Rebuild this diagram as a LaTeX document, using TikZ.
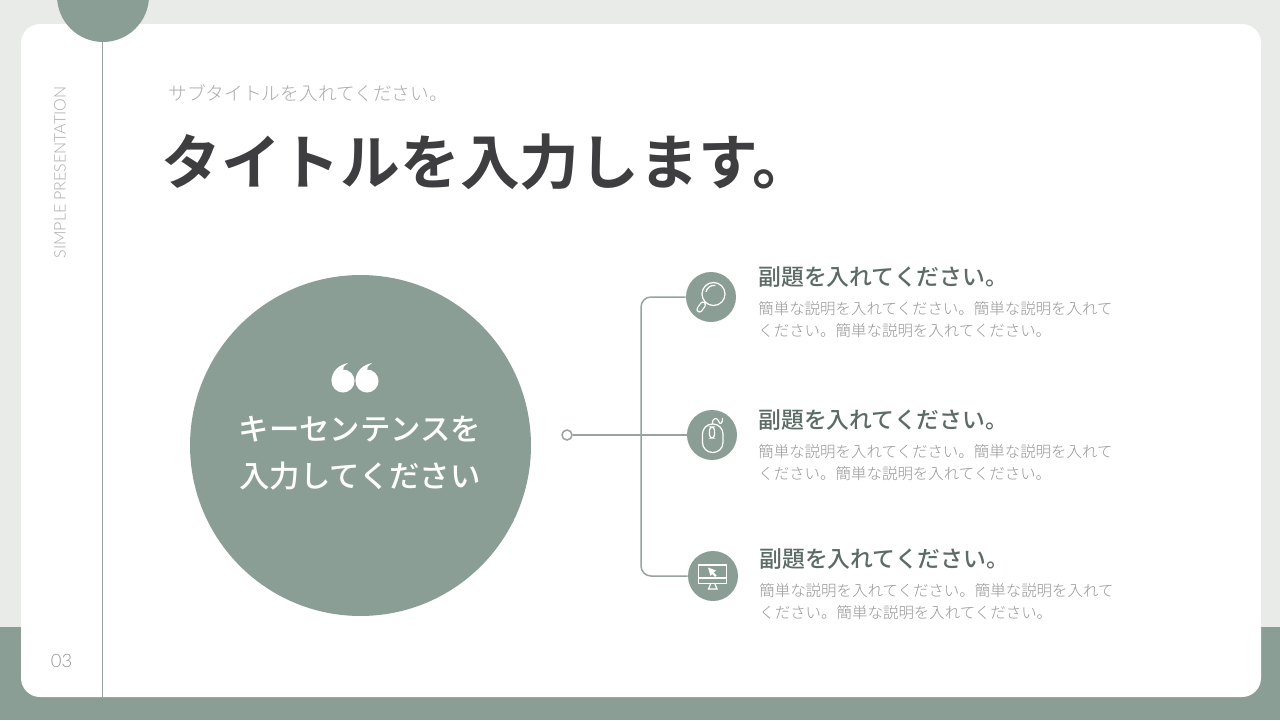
\documentclass[tikz,border=0pt]{standalone}
\usepackage{fontspec}
\usepackage{xcolor}
\setmainfont{Liberation Sans}
\newfontfamily\cjk{Noto Sans CJK JP}
\newfontfamily\cjkmed{Noto Sans CJK JP Medium}
\newfontfamily\cjklight{Noto Sans CJK JP Light}
\newfontfamily\cjkbold{Noto Sans CJK JP Bold}
\newfontfamily\latinlight{Lato Light}
\definecolor{sage}{HTML}{8A9E96}
\definecolor{paper}{HTML}{E9EBE8}
\definecolor{rail}{HTML}{98A29E}
\definecolor{inkdark}{HTML}{3E3E40}
\definecolor{inkhead}{HTML}{5C6B66}
\definecolor{inkbody}{HTML}{969696}
\definecolor{inksub}{HTML}{ABABAB}

\tikzset{
    iconspot/.style={circle,fill=sage,minimum size=1cm,inner sep=0pt},
    iconline/.style={draw=white,line width=0.7pt},
    headtext/.style={anchor=west,inner sep=0pt,text=inkhead,font=\cjkmed\fontsize{13}{14}\selectfont},
    bodytext/.style={anchor=north west,inner sep=0pt,align=left,text=inkbody,font=\cjklight\fontsize{8.8}{12.5}\selectfont},
    connector/.style={draw=rail,line width=0.85pt},
    quotemark/.pic={
        \fill[white] (0,0) circle (11.5);
        \fill[white] (-11.5,0) .. controls (-11.5,-9) and (-5,-16) .. (5,-18)
            .. controls (1,-15) and (-1,-13) .. (0,-11) -- (3,-5) -- cycle;
    }
}

\begin{document}
\begin{tikzpicture}[x=0.02cm,y=-0.02cm]
    \useasboundingbox (0,0) rectangle (1280,720);
    \fill[paper] (0,0) rectangle (1280,720);
    \fill[sage] (0,627) rectangle (1280,720);
    \fill[white,rounded corners=0.38cm] (21,24) rectangle (1261,697);

    % left rail
    \node[circle,fill=sage,minimum size=1.84cm,inner sep=0pt] (topcap) at (103,-4) {};
    \coordinate (railend) at (102.5,697);
    \draw[draw=rail,line width=0.45pt] (102.5,42) -- (railend);
    \node[rotate=90,inner sep=0pt,text=inksub,font=\latinlight\fontsize{9.1}{10}\selectfont] (sidelabel) at (60,172.5) {SIMPLE PRESENTATION};
    \node[inner sep=0pt,text=inkbody,font=\latinlight\fontsize{10.5}{11}\selectfont] (pagenum) at (61.5,661) {03};

    % title
    \node[anchor=west,inner sep=0pt,text=inksub,font=\cjklight\fontsize{10.65}{12}\selectfont] (subtitle) at (168,93) {サブタイトルを入れてください。};
    \node[anchor=west,inner sep=0pt,text=inkdark,font=\cjkbold\fontsize{34}{36}\selectfont] (title) at (161,162) {タイトルを入力します。};

    % key sentence
    \node[circle,fill=sage,minimum size=6.82cm,inner sep=0pt] (keycircle) at (360.5,445.5) {};
    \pic at (343,381) {quotemark};
    \pic at (367,381) {quotemark};
    \node[text=white,inner sep=0pt,font=\cjkmed\fontsize{17.3}{17}\selectfont] (keyone) at (360,429) {キーセンテンスを};
    \node[text=white,inner sep=0pt,font=\cjkmed\fontsize{17.3}{17}\selectfont] (keytwo) at (360,476) {入力してください};

    % connectors
    \node[circle,draw=rail,fill=white,line width=0.85pt,minimum size=0.2cm,inner sep=0pt] (startdot) at (567,435) {};
    \node[iconspot] (icontop) at (711,297) {};
    \node[iconspot] (iconmid) at (712,435) {};
    \node[iconspot] (iconbot) at (713,576) {};
    \coordinate (bus) at (641,435);
    \draw[connector] (startdot) -- (iconmid);
    \draw[connector,rounded corners=0.2cm] (icontop.west) -| (bus) |- (iconbot.west);

    % magnifier
    \draw[iconline] (713.5,294) circle (11.5);
    \draw[iconline] (706,292) arc (190:280:8);
    \draw[white,line width=3.6pt,line cap=round] (703,304.5) -- (699.5,309.5);
    \draw[sage,line width=2.2pt,line cap=round] (703,304.5) -- (699.5,309.5);

    % mouse
    \draw[iconline,rounded corners=0.2cm] (702.5,424) rectangle (723,452.5);
    \draw[iconline,rounded corners=0.06cm] (709.5,427) rectangle (714.5,438);
    \draw[iconline] (712.5,424) .. controls (712,417) and (718,417) .. (719,422) .. controls (720,425) and (723,423) .. (722.5,418);

    % monitor
    \draw[iconline] (698.5,565) rectangle (726.5,583.5);
    \draw[iconline] (699,578) -- (726,578);
    \draw[iconline] (710.5,584) -- (708.5,589) -- (717,589) -- (715,584);
    \fill[white] (708,567.5) -- (716,570.5) -- (713.5,572.5) -- (716.5,575.5) -- (715,577) -- (712,574) -- (710.5,576) -- cycle;

    % texts
    \node[headtext] (headone) at (758,277.5) {副題を入れてください。};
    \node[bodytext] (bodyone) at (758,301) {簡単な説明を入れてください。簡単な説明を入れて\\ください。簡単な説明を入れてください。};
    \node[headtext] (headtwo) at (758,420) {副題を入れてください。};
    \node[bodytext] (bodytwo) at (758,444) {簡単な説明を入れてください。簡単な説明を入れて\\ください。簡単な説明を入れてください。};
    \node[headtext] (headthree) at (759,559) {副題を入れてください。};
    \node[bodytext] (bodythree) at (759,583) {簡単な説明を入れてください。簡単な説明を入れて\\ください。簡単な説明を入れてください。};
\end{tikzpicture}
\end{document}
